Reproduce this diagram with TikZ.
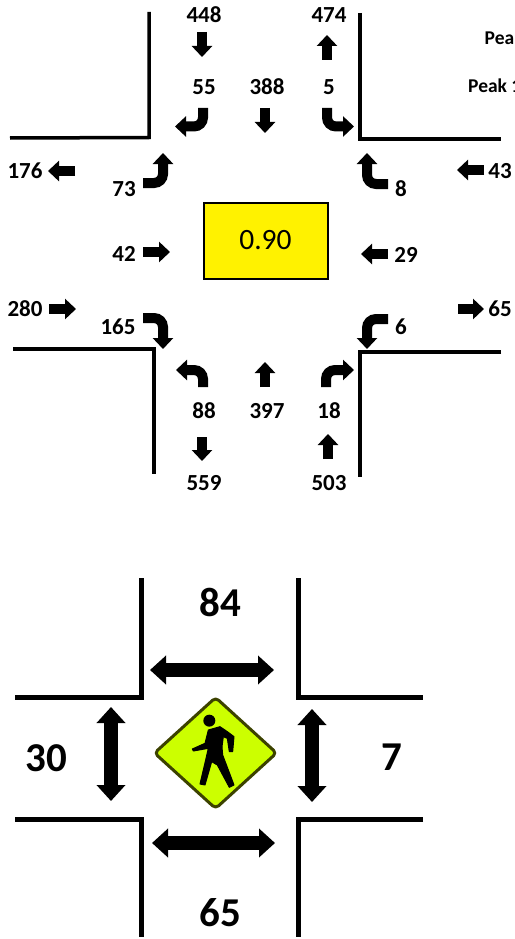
\documentclass[tikz,border=0pt]{standalone}
\usepackage{fontspec}
\setmainfont{Carlito}
\usetikzlibrary{arrows.meta}
\definecolor{signyellow}{HTML}{CCFF00}
\definecolor{signedge}{HTML}{3C4200}
\tikzset{
  curb/.style={line width=3.5pt,line cap=butt,line join=miter},
  pedcurb/.style={line width=5pt,line cap=butt,line join=miter},
  flow/.style={line width=10pt,-{Triangle[width=20pt,length=11pt]}},
  turn/.style={flow,rounded corners=9pt},
  ped/.style={line width=14.5pt,{Triangle[width=28pt,length=16pt]}-{Triangle[width=28pt,length=16pt]}},
  count/.style={inner sep=0pt,font=\fontsize{23}{23}\selectfont\bfseries},
  pedcount/.style={inner sep=0pt,font=\fontsize{41}{41}\selectfont\bfseries},
  note/.style={inner sep=0pt,anchor=west,font=\fontsize{19.5}{19.5}\selectfont\bfseries}
}
\begin{document}
\begin{tikzpicture}[x=1pt,y=-1pt]
\useasboundingbox (0,0) rectangle (514,939);
\clip (0,0) rectangle (514,939);
% vehicle diagram curbs
\draw[curb] (149,12) -- (149,137.5) -- (10,138);
\draw[curb] (360,13) -- (360,139) -- (501,139);
\draw[curb] (13,349) -- (154,349) -- (154,474);
\draw[curb] (501,352) -- (360,352) -- (360,477);
% straight arrows
\draw[flow] (202,32) -- (202,57);
\draw[flow] (327,60) -- (327,35);
\draw[flow] (265,108) -- (265,133);
\draw[flow] (265,387) -- (265,362);
\draw[flow] (202,437) -- (202,461);
\draw[flow] (328,459) -- (328,434);
\draw[flow] (75,171) -- (48,171);
\draw[flow] (484,170) -- (457,170);
\draw[flow] (143,252) -- (170,252);
\draw[flow] (388,254) -- (361,254);
\draw[flow] (49,309) -- (76,309);
\draw[flow] (458,309) -- (484,309);
% turning arrows
\draw[turn] (203,108) -- (203,126.5) -- (175,126.5);
\draw[turn] (327,108) -- (327,126.5) -- (354,126.5);
\draw[turn] (143,183) -- (163,183) -- (163,153);
\draw[turn] (388,184) -- (367,184) -- (367,153);
\draw[turn] (143,318) -- (163,318) -- (163,349);
\draw[turn] (388,319) -- (367,319) -- (367,349);
\draw[turn] (203,387) -- (203,370) -- (176,370);
\draw[turn] (326,387) -- (326,370) -- (354,370);
% PHF box
\node[draw=black,line width=2pt,fill=yellow,minimum width=124pt,minimum height=76pt,inner sep=0pt,
  font=\fontsize{29.5}{29.5}\selectfont] (phf) at (265.5,240.5) {0.90};
% counts
\node[count] (n448) at (204,15) {448};
\node[count] (n474) at (329,15) {474};
\node[count] (n55) at (204,87) {55};
\node[count] (n388) at (267,87) {388};
\node[count] (n5) at (329,87) {5};
\node[count] (n176) at (25,171) {176};
\node[count] (n73) at (124,189) {73};
\node[count] (n8) at (401,189) {8};
\node[count] (n43) at (500,171) {43};
\node[count] (n42) at (124,254) {42};
\node[count] (n29) at (406,255) {29};
\node[count] (n280) at (25,309) {280};
\node[count] (n165) at (118,327) {165};
\node[count] (n6) at (401,327) {6};
\node[count] (n65) at (500,309) {65};
\node[count] (n88) at (204,411) {88};
\node[count] (n397) at (267,411) {397};
\node[count] (n18) at (329,411) {18};
\node[count] (n559) at (204,483) {559};
\node[count] (n503) at (329,483) {503};
\node[note] (pea) at (484.5,38) {Pea};
\node[note] (peak) at (468,86) {Peak 1};
% pedestrian diagram curbs
\draw[pedcurb] (141,578) -- (141,697) -- (15,697);
\draw[pedcurb] (298,578) -- (298,697) -- (423,697);
\draw[pedcurb] (15,819) -- (141,819) -- (141,937);
\draw[pedcurb] (423,819) -- (298,819) -- (298,937);
% pedestrian arrows
\draw[ped] (150,670) -- (274,670);
\draw[ped] (152,843) -- (275,843);
\draw[ped] (111,707) -- (111,801);
\draw[ped] (312,709) -- (312,802);
% sign
\draw[line width=3pt,draw=signedge,fill=signyellow,rounded corners=4pt,line join=round]
  (215.6,697.5) -- (276.5,753) -- (215.6,808.5) -- (154.5,753) -- cycle;
\begin{scope}[shift={(140,680)},x=0.3333pt,y=-0.3333pt]
  \fill[black] (208,122) circle (6pt);
  \filldraw[black,line width=1pt,line join=round] (205,150) -- (240,140) -- (262,155) -- (282,170) -- (278,215) -- (268,215)
    -- (262,175) -- (250,170) -- (246,200) -- (248,225) -- (282,315) -- (268,322)
    -- (232,255) -- (215,245) -- (195,315) -- (180,312) -- (197,240) -- (205,205)
    -- (160,213) -- (157,207) -- (195,190) -- cycle;
\end{scope}
% pedestrian counts
\node[pedcount] (p84) at (220,602) {84};
\node[pedcount] (p30) at (46,758) {30};
\node[pedcount] (p7) at (392,757) {7};
\node[pedcount] (p65) at (220,913) {65};
\end{tikzpicture}
\end{document}
